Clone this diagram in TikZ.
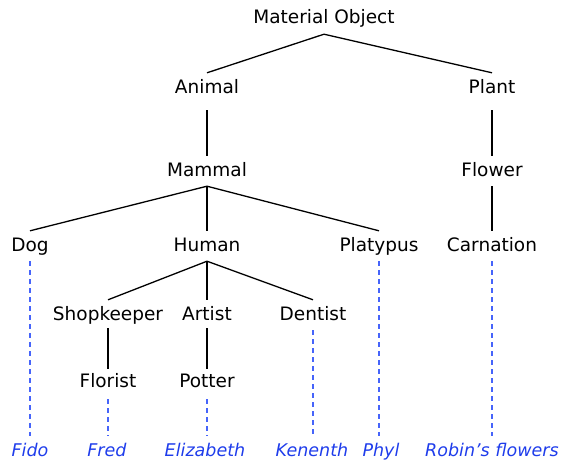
\documentclass[tikz,border=0pt]{standalone}
\usepackage{fontspec}
\setmainfont{DejaVu Sans}
\definecolor{lblue}{RGB}{30,60,235}
\definecolor{dblue}{RGB}{70,100,250}
\begin{document}
\begin{tikzpicture}[x=1pt,y=-1pt,
  every node/.style={font=\fontsize{18.5}{22}\selectfont, text height=13.5pt, text depth=3.5pt, inner xsep=2pt, inner ysep=6.5pt},
  inst/.style={text=lblue, font=\fontsize{17.5}{21}\selectfont\itshape},
  edge/.style={line width=1.3pt},
  inedge/.style={dblue, line width=1.2pt, dash pattern=on 5pt off 4pt}]
\useasboundingbox (0,0) rectangle (561,460);
\node (mo) at (324,19) {Material Object};
\node (animal) at (207,88) {Animal};
\node (plant) at (492,88) {Plant};
\node (mammal) at (207,171) {Mammal};
\node (flower) at (492,171) {Flower};
\node (dog) at (30,246) {Dog};
\node (human) at (207,246) {Human};
\node (platypus) at (379,246) {Platypus};
\node (carnation) at (492,246) {Carnation};
\node (shop) at (108,315) {Shopkeeper};
\node (artist) at (207,315) {Artist};
\node (dentist) at (313,315) {Dentist};
\node (florist) at (108,382) {Florist};
\node (potter) at (207,382) {Potter};
\node[inst] (fido) at (30,451) {Fido};
\node[inst] (fred) at (107,451) {Fred};
\node[inst] (eliz) at (205,451) {Elizabeth};
\node[inst] (ken) at (312,451) {Kenenth};
\node[inst] (phyl) at (381,451) {Phyl};
\node[inst] (robin) at (492,451) {Robin's flowers};
\draw[edge] (animal.north) -- (mo.south) -- (plant.north);
\draw[edge,shorten <=7pt] (animal.south) -- (mammal.north);
\draw[edge,shorten <=7pt] (plant.south) -- (flower.north);
\draw[edge] (dog.north) -- (mammal.south) -- (platypus.north);
\draw[edge] (mammal.south) -- (human.north);
\draw[edge] (flower.south) -- (carnation.north);
\draw[edge] (shop.north) -- (human.south) -- (dentist.north);
\draw[edge] (human.south) -- (artist.north);
\draw[edge,shorten <=-2pt,shorten >=-2pt] (shop.south) -- (florist.north);
\draw[edge,shorten <=-2pt,shorten >=-2pt] (artist.south) -- (potter.north);
\draw[inedge] (dog.south) -- (fido.north);
\draw[inedge,shorten <=2pt] (florist.south) -- (fred.north-|florist.south);
\draw[inedge,shorten <=2pt] (potter.south) -- (eliz.north-|potter.south);
\draw[inedge] (dentist.south) -- (ken.north-|dentist.south);
\draw[inedge] (platypus.south) -- (phyl.north-|platypus.south);
\draw[inedge] (carnation.south) -- (robin.north-|carnation.south);
\end{tikzpicture}
\end{document}
